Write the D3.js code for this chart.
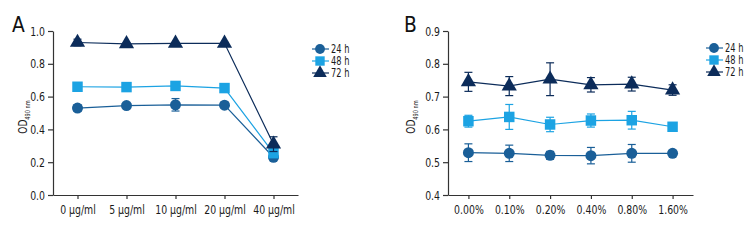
<!DOCTYPE html>
<html>
<head>
<meta charset="utf-8">
<script src="https://cdn.jsdelivr.net/npm/d3@7"></script>
<style>
  html, body { margin: 0; padding: 0; background: #fff; }
  svg { display: block; font-family: "DejaVu Sans", sans-serif; }
</style>
</head>
<body>
<svg id="chart" width="756" height="240"></svg>
<script>
// ---------- Data ----------
const seriesNames = ["24 h", "48 h", "72 h"];
const seriesColors = ["#1a5f98", "#1ca3e3", "#0c2c5a"];
const seriesShapes = ["circle", "square", "triangle"];

// Panel A
const catsA = ["0 μg/ml", "5 μg/ml", "10 μg/ml", "20 μg/ml", "40 μg/ml"];
const a24 = [0.530, 0.545, 0.550, 0.548, 0.230];
const a24err = [0.020, 0.010, 0.038, 0.018, 0.015];
const a48 = [0.660, 0.658, 0.665, 0.652, 0.255];
const a48err = [0.008, 0.008, 0.010, 0.010, 0.015];
const a72 = [0.930, 0.922, 0.925, 0.925, 0.310];
const a72err = [0.020, 0.005, 0.005, 0.005, 0.045];
const yTicksA = [0.0, 0.2, 0.4, 0.6, 0.8, 1.0];

// Panel B
const catsB = ["0.00%", "0.10%", "0.20%", "0.40%", "0.80%", "1.60%"];
const b24 = [0.529, 0.527, 0.521, 0.520, 0.527, 0.527];
const b24err = [0.027, 0.025, 0.012, 0.025, 0.027, 0.004];
const b48 = [0.625, 0.638, 0.615, 0.627, 0.628, 0.608];
const b48err = [0.018, 0.038, 0.022, 0.020, 0.027, 0.006];
const b72 = [0.745, 0.732, 0.753, 0.736, 0.738, 0.720];
const b72err = [0.029, 0.029, 0.050, 0.022, 0.021, 0.016];
const yTicksB = [0.4, 0.5, 0.6, 0.7, 0.8, 0.9];

// ---------- Drawing ----------
const svg = d3.select("#chart");
const axisColor = "#333";
const textColor = "#1a1a1a";
const fontSize = "13px";
const squeeze = 0.72; // condensed look

function symbolPath(shape, k = 1) {
  if (shape === "circle") return d3.symbol(d3.symbolCircle, 95 * k)();
  if (shape === "square") return d3.symbol(d3.symbolSquare, 110 * k)();
  return d3.symbol(d3.symbolTriangle, 100 * k)();
}

function drawPanel(opts) {
  const g = svg.append("g");
  const x = d3.scalePoint().domain(opts.cats).range([opts.x0, opts.x1]).padding(0.5);
  const y = d3.scaleLinear().domain(opts.yDomain).range([opts.yBottom, opts.yTop]);

  // y axis
  const yAxis = d3.axisLeft(y).tickValues(opts.yTicks).tickFormat(d3.format(".1f")).tickSize(5).tickSizeOuter(0).tickPadding(3);
  const yg = g.append("g").attr("transform", `translate(${opts.x0},0)`).call(yAxis).attr("font-family", null).attr("font-size", null);
  yg.select(".domain").attr("stroke", axisColor).attr("stroke-width", 1.2);
  yg.selectAll(".tick line").attr("stroke", axisColor).attr("stroke-width", 1.2);
  yg.selectAll(".tick text").attr("fill", textColor).style("font-size", fontSize)
    .attr("x", null).attr("transform", `translate(-8,0) scale(${squeeze},1)`);

  // x axis
  const xAxis = d3.axisBottom(x).tickSize(4).tickSizeOuter(0).tickPadding(6);
  const xg = g.append("g").attr("transform", `translate(0,${opts.yBottom})`).call(xAxis).attr("font-family", null).attr("font-size", null);
  xg.select(".domain").attr("stroke", axisColor).attr("stroke-width", 1.2);
  xg.selectAll(".tick line").attr("stroke", axisColor).attr("stroke-width", 1.2);
  xg.selectAll(".tick text").attr("fill", textColor).style("font-size", fontSize)
    .attr("transform", `scale(${squeeze},1)`);

  // panel letter
  g.append("text").attr("transform", `translate(${opts.letterX},32) scale(0.85,1)`).text(opts.letter)
    .attr("fill", "#111").style("font-size", "22px");

  // y title
  const yt = g.append("text")
    .attr("transform", `translate(${opts.titleX},${(opts.yTop + opts.yBottom) / 2 + 4}) rotate(-90) scale(${squeeze},1)`)
    .attr("text-anchor", "middle").attr("fill", textColor).style("font-size", "12.5px");
  yt.append("tspan").text("OD");
  yt.append("tspan").text("490 nm").attr("dy", 3).style("font-size", "7px");

  // series
  opts.series.forEach((s, si) => {
    const color = seriesColors[si];
    const pts = opts.cats.map((c, i) => ({ c, v: s.vals[i], e: s.errs[i] }));
    g.append("path").datum(pts)
      .attr("d", d3.line().x(d => x(d.c)).y(d => y(d.v)))
      .attr("fill", "none").attr("stroke", color).attr("stroke-width", 1.2);
    const eb = g.append("g").attr("stroke", color).attr("stroke-width", 1.2);
    pts.forEach(d => {
      const cx = x(d.c);
      eb.append("line").attr("x1", cx).attr("x2", cx).attr("y1", y(d.v - d.e)).attr("y2", y(d.v + d.e));
      eb.append("line").attr("x1", cx - 4).attr("x2", cx + 4).attr("y1", y(d.v + d.e)).attr("y2", y(d.v + d.e));
      eb.append("line").attr("x1", cx - 4).attr("x2", cx + 4).attr("y1", y(d.v - d.e)).attr("y2", y(d.v - d.e));
    });
    g.append("g").selectAll("path").data(pts).join("path")
      .attr("d", symbolPath(seriesShapes[si]))
      .attr("transform", d => `translate(${x(d.c)},${y(d.v)})`)
      .attr("fill", color);
  });

  // legend
  const lg = g.append("g");
  seriesNames.forEach((name, si) => {
    const ly = opts.legendY + si * 12;
    const color = seriesColors[si];
    lg.append("line").attr("x1", opts.legendX - 8).attr("x2", opts.legendX + 9)
      .attr("y1", ly).attr("y2", ly).attr("stroke", color).attr("stroke-width", 1.2);
    lg.append("path").attr("d", symbolPath(seriesShapes[si], 0.8))
      .attr("transform", `translate(${opts.legendX},${ly})`).attr("fill", color);
    lg.append("text").attr("transform", `translate(${opts.legendX + 11},${ly + 4.2}) scale(${squeeze},1)`).text(name)
      .attr("fill", textColor).style("font-size", "11.5px");
  });
}

drawPanel({
  cats: catsA, x0: 53, x1: 298, yTop: 31, yBottom: 195, yDomain: [0, 1], yTicks: yTicksA,
  letter: "A", letterX: 12, titleX: 27,
  legendX: 320, legendY: 49,
  series: [
    { vals: a24, errs: a24err },
    { vals: a48, errs: a48err },
    { vals: a72, errs: a72err }
  ]
});

drawPanel({
  cats: catsB, x0: 448, x1: 693, yTop: 31, yBottom: 195, yDomain: [0.4, 0.9], yTicks: yTicksB,
  letter: "B", letterX: 404, titleX: 415,
  legendX: 714, legendY: 48,
  series: [
    { vals: b24, errs: b24err },
    { vals: b48, errs: b48err },
    { vals: b72, errs: b72err }
  ]
});
</script>
</body>
</html>
